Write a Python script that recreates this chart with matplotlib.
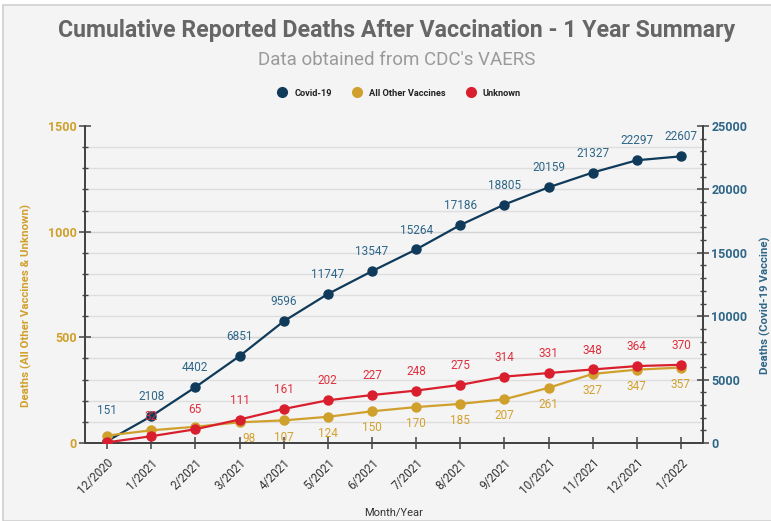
import numpy as np
import matplotlib
matplotlib.use("Agg")
import matplotlib.pyplot as plt
from matplotlib.ticker import MultipleLocator
from matplotlib.lines import Line2D
from matplotlib.patches import Rectangle

months = ["12/2020", "1/2021", "2/2021", "3/2021", "4/2021", "5/2021", "6/2021",
          "7/2021", "8/2021", "9/2021", "10/2021", "11/2021", "12/2021", "1/2022"]
covid = [151, 2108, 4402, 6851, 9596, 11747, 13547, 15264, 17186, 18805,
         20159, 21327, 22297, 22607]
other = [35, 60, 77, 98, 107, 124, 150, 170, 185, 207, 261, 327, 347, 357]
unknown = [3, 32, 65, 111, 161, 202, 227, 248, 275, 314, 331, 348, 364, 370]
other_first_label = 3   # earlier labels are hidden in the original
unknown_first_label = 1

c_covid = "#0f3a5a"
c_covid_txt = "#2e6688"
c_other = "#d0a02c"
c_other_txt = "#d4a12f"
c_red = "#d91f2e"
c_red_txt = "#e0303e"
bg = "#f4f4f4"

plt.rcParams['font.family'] = ['Roboto', 'DejaVu Sans']

fig = plt.figure(figsize=(7.71, 5.21), dpi=100, facecolor="white")
fig.patches.append(Rectangle((3 / 771, 0), 1, 1 - 5 / 521, transform=fig.transFigure,
                             facecolor=bg, edgecolor="#d0d0d0", lw=1.2, zorder=-5))

ax = fig.add_axes([85 / 771, 78 / 521, 618 / 771, 317 / 521])
ax2 = ax.twinx()
ax.set_zorder(ax2.get_zorder() + 1)
ax.patch.set_visible(False)
ax2.patch.set_facecolor(bg)

x = np.arange(len(months))

# covid on right axis
ax2.plot(x, covid, color=c_covid, lw=1.6, marker="o", ms=6.5, zorder=3)
for i, v in enumerate(covid):
    dy = 22 if i == 0 else 14
    ax2.annotate(str(v), (x[i], v), xytext=(0, dy), textcoords="offset points",
                 ha="center", va="center", fontsize=8.5, color=c_covid_txt, zorder=5)

ax.plot(x, other, color=c_other, lw=1.6, marker="o", ms=6.5, zorder=3)
ax.plot(x, unknown, color=c_red, lw=1.6, marker="o", ms=6.5, zorder=4)
for i in range(other_first_label, len(other)):
    dx = 7 if i == other_first_label else 0
    ax.annotate(str(other[i]), (x[i], other[i]), xytext=(dx, -12), textcoords="offset points",
                ha="center", va="center", fontsize=8.5, color=c_other_txt, zorder=6)
for i in range(unknown_first_label, len(unknown)):
    ax.annotate(str(unknown[i]), (x[i], unknown[i]), xytext=(0, 14), textcoords="offset points",
                ha="center", va="center", fontsize=8.5, color=c_red_txt, zorder=6)

ax.set_xlim(-0.5, len(months) - 0.5)
ax.set_ylim(0, 1500)
ax2.set_ylim(0, 25000)

ax.yaxis.set_major_locator(MultipleLocator(500))
ax.yaxis.set_minor_locator(MultipleLocator(100))
ax2.yaxis.set_major_locator(MultipleLocator(5000))
ax2.yaxis.set_minor_locator(MultipleLocator(1000))

ax2.grid(False)
ax.grid(False)
for yv in np.arange(100, 1500, 100):
    ax2.axhline(yv / 1500 * 25000, color="#dedede" if yv % 500 else "#d2d2d2", lw=1.0, zorder=0)

ax.set_xticks(x)
ax.set_xticklabels(months, rotation=45, ha="right", rotation_mode="anchor",
                   fontsize=8.5, color="#333333")

spine_c = "#444444"
for a in (ax, ax2):
    for s in a.spines.values():
        s.set_color(spine_c)
        s.set_linewidth(1.4)
    a.spines["top"].set_visible(False)

ax.tick_params(axis="x", direction="inout", length=9, width=1.1, color=spine_c, pad=5)
ax.tick_params(axis="y", which="major", direction="inout", length=9, width=1.1,
               color=spine_c, labelsize=9, labelcolor=c_other, pad=1.5)
ax.tick_params(axis="y", which="minor", direction="inout", length=5, width=1.0, color=spine_c)
ax2.tick_params(axis="y", which="major", direction="inout", length=9, width=1.1,
                color=spine_c, labelsize=9, labelcolor=c_covid_txt, pad=1.5)
ax2.tick_params(axis="y", which="minor", direction="inout", length=5, width=1.0, color=spine_c)
for lab in ax.get_yticklabels() + ax2.get_yticklabels():
    lab.set_fontweight("bold")

ax.set_ylabel("Deaths (All Other Vaccines & Unknown)", color=c_other, fontsize=8.2,
              fontweight="bold")
ax.yaxis.set_label_coords(-0.086, 0.435)
ax2.set_ylabel("Deaths (Covid-19 Vaccine)", color=c_covid_txt, fontsize=8.2,
               fontweight="bold")
ax2.yaxis.set_label_coords(1.092, 0.435)
ax.set_xlabel("Month/Year", fontsize=8, color="#333333")
ax.xaxis.set_label_coords(0.5, -(513 - 443) / 317)
ax.xaxis.label.set_va("center")

fig.text(397 / 771, 1 - 31 / 521, "Cumulative Reported Deaths After Vaccination - 1 Year Summary",
         ha="center", va="center", fontsize=16.7, fontweight="bold", color="#666666")
fig.text(397 / 771, 1 - 60 / 521, "Data obtained from CDC's VAERS",
         ha="center", va="center", fontsize=13.5, color="#9a9a9a")

handles = [Line2D([], [], ls="none", marker="o", ms=7, color=c) for c in (c_covid, c_other, c_red)]
leg = fig.legend(handles, ["Covid-19", "All Other Vaccines", "Unknown"], loc="center",
                 bbox_to_anchor=(397 / 771, 1 - 93 / 521), ncol=3, frameon=False,
                 prop={"size": 6.7, "weight": "bold"}, handletextpad=0.3, columnspacing=1.7)
for t in leg.get_texts():
    t.set_color("#222222")

fig.savefig("out.png", dpi=100, facecolor=fig.get_facecolor())
